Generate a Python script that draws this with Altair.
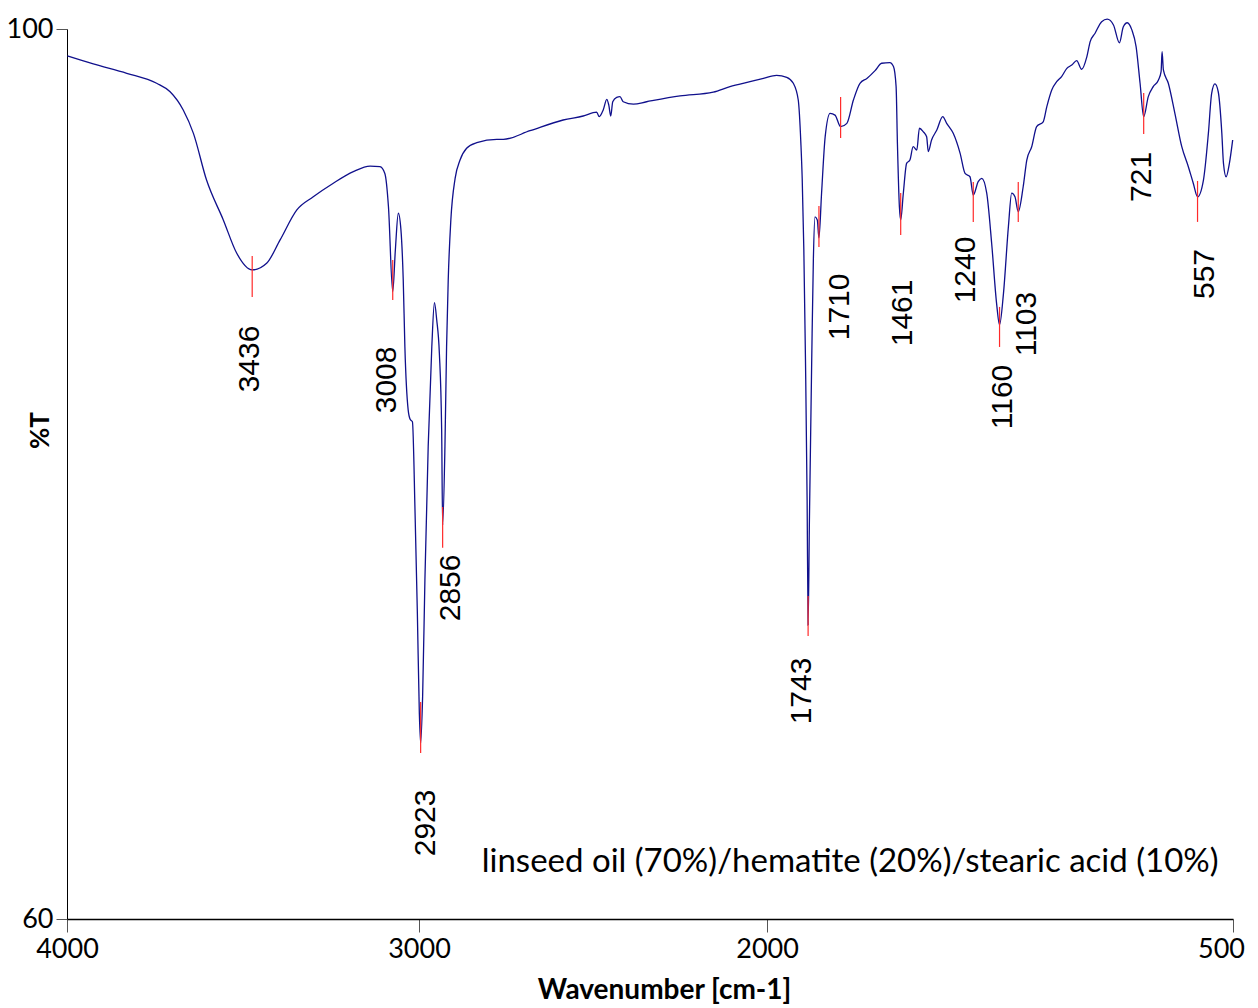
import altair as alt
import pandas as pd

# ---- spectrum (wavenumber cm-1, %T) ----
wavenumber = [3999, 3920, 3818, 3727, 3686, 3646, 3615, 3575, 3524, 3483, 3436, 3392, 3351,
              3300, 3250, 3189, 3128, 3077, 3047, 3032, 3021, 3008, 3000, 2991, 2983, 2976,
              2971, 2961, 2955, 2948, 2940, 2933, 2927, 2923, 2917, 2910, 2900, 2889, 2881,
              2874, 2866, 2859, 2856, 2849, 2844, 2839, 2831, 2818, 2803, 2783, 2752, 2691,
              2671, 2590, 2489, 2428, 2387, 2379, 2367, 2356, 2350, 2344, 2338, 2326, 2316,
              2306, 2275, 2235, 2133, 2032, 1981, 1920, 1879, 1839, 1808, 1788, 1773, 1765,
              1761, 1756, 1751, 1746, 1743, 1739, 1732, 1727, 1722, 1715, 1710, 1702, 1691,
              1676, 1661, 1644, 1625, 1605, 1585, 1564, 1539, 1519, 1494, 1483, 1475, 1471,
              1465, 1461, 1453, 1443, 1433, 1423, 1412, 1404, 1392, 1382, 1377, 1367, 1351,
              1333, 1321, 1301, 1280, 1265, 1250, 1240, 1225, 1214, 1199, 1184, 1169, 1160,
              1148, 1133, 1123, 1113, 1103, 1088, 1077, 1062, 1047, 1027, 1016, 1001, 986,
              971, 955, 940, 925, 910, 894, 884, 869, 849, 832, 813, 795, 783, 771, 757, 744,
              732, 721, 707, 692, 676, 668, 665, 661, 646, 626, 605, 585, 570, 557, 539, 524,
              514, 504, 494, 483, 478, 470, 460, 450]
transmittance = [98.79, 98.43, 98.01, 97.56, 97.18, 96.36, 95.31, 93.21, 91.42, 89.92, 89.17,
                 89.47, 90.52, 91.87, 92.46, 93.07, 93.59, 93.84, 93.81, 93.51, 92.01, 88.19,
                 90.07, 91.72, 90.97, 88.72, 85.72, 82.88, 82.46, 82.35, 78.25, 73.75, 69.26,
                 67.90, 69.99, 75.24, 81.23, 85.72, 87.70, 86.92, 85.43, 81.98, 77.71, 81.23,
                 85.72, 88.72, 91.42, 93.29, 94.11, 94.64, 94.89, 95.04, 95.04, 95.43, 95.91,
                 96.09, 96.26, 96.06, 96.36, 96.84, 96.58, 96.09, 96.73, 96.93, 96.96, 96.73,
                 96.62, 96.73, 96.99, 97.16, 97.41, 97.63, 97.78, 97.92, 97.83, 97.56, 96.81,
                 94.86, 93.29, 90.07, 85.12, 78.83, 73.21, 77.93, 85.12, 89.62, 91.56, 91.42,
                 90.61, 92.62, 95.16, 96.21, 96.13, 95.61, 95.76, 96.81, 97.56, 97.78, 98.13,
                 98.46, 98.49, 98.31, 97.41, 94.86, 92.01, 91.42, 92.62, 93.96, 94.11, 94.71,
                 94.56, 95.54, 95.38, 95.16, 94.49, 95.01, 95.46, 96.06, 95.76, 95.31, 94.41,
                 93.51, 93.36, 92.54, 93.14, 93.29, 92.62, 90.37, 87.67, 86.70, 88.12, 91.12,
                 92.62, 92.46, 91.79, 92.91, 94.11, 94.71, 95.61, 95.83, 96.51, 97.26, 97.63,
                 97.86, 98.23, 98.38, 98.58, 98.19, 98.76, 99.43, 99.81, 100.33, 100.44, 100.18,
                 99.38, 100.10, 100.28, 99.96, 99.20, 97.56, 96.06, 96.96, 97.41, 97.71, 98.08,
                 98.98, 98.16, 97.56, 96.21, 94.71, 93.81, 93.07, 92.46, 93.21, 95.31, 97.11,
                 97.53, 97.18, 95.31, 93.96, 93.36, 93.96, 95.01]

# ---- peak markers (red ticks) ----
peak_wn = [3436, 3008, 2923, 2856, 1743, 1710, 1644, 1461, 1240, 1160, 1103, 721, 557]
peak_top = [89.80, 89.62, 69.75, 78.52, 74.52, 92.05, 96.94, 92.63, 93.12, 87.51, 93.12, 97.12, 93.17]
peak_bottom = [87.96, 87.82, 67.46, 76.68, 72.72, 90.20, 95.10, 90.74, 91.33, 85.71, 91.33, 95.28, 91.33]

# ---- peak labels ----
label_text = ["3436", "3008", "2923", "2856", "1743", "1710", "1461", "1240", "1160", "1103", "721", "557"]
label_wn = [3443, 3025, 2907, 2830, 1762, 1646, 1454, 1262, 1149, 1076, 726, 534]
label_t = [85.17, 84.23, 64.32, 74.88, 70.25, 87.51, 87.24, 89.17, 83.46, 86.74, 93.35, 88.99]

# ---- annotation ----
note_text = ["linseed oil (70%)/hematite (20%)/stearic acid (10%)"]
note_wn = [1615]
note_t = [62.56]

# ---- axes ----
x_tick_values = [4000, 2928, 1868, 449]
x_tick_labels = ["4000", "3000", "2000", "500"]
y_tick_values = [60, 100]

spec = pd.DataFrame({"wn": wavenumber, "t": transmittance})
peaks = pd.DataFrame({"wn": peak_wn, "top": peak_top, "bottom": peak_bottom})
labels = pd.DataFrame({"wn": label_wn, "t": label_t, "txt": label_text})
note = pd.DataFrame({"wn": note_wn, "t": note_t, "txt": note_text})

expr = "''"
for v, lab in reversed(list(zip(x_tick_values, x_tick_labels))):
    expr = f"(abs(datum.value - {v}) < 1 ? '{lab}' : {expr})"

xscale = alt.Scale(domain=[449, 4000], reverse=True, nice=False, zero=False)
yscale = alt.Scale(domain=[60, 100], nice=False, zero=False)

xaxis = alt.Axis(values=x_tick_values, labelExpr=expr, title="Wavenumber [cm-1]",
                 grid=False, tickSize=13, labelPadding=4, labelFlush=False, labelOverlap=False,
                 labelOffset={"condition": {"test": "datum.value < 500", "value": -12}, "value": 0},
                 labelFont="Lato", labelFontSize=27, labelColor="black",
                 titleFont="Lato", titleFontSize=28, titleFontWeight="bold", titleColor="black",
                 titleX=597, titleY=71, titleBaseline="middle", titleAlign="center",
                 domainColor="black", tickColor="#555555", domainWidth=1.5)
yaxis = alt.Axis(values=y_tick_values, title="%T", grid=False, tickSize=11, labelPadding=3,
                 labelFont="Lato", labelFontSize=27, labelColor="black",
                 titleFont="Lato", titleFontSize=26, titleFontWeight="bold", titleColor="black",
                 titleX=-27, titleY=401, titleAngle=270, titleBaseline="middle", titleAlign="center",
                 domainColor="black", tickColor="#555555")

line = alt.Chart(spec).mark_line(color="#10108c", strokeWidth=1.3, interpolate="monotone").encode(
    x=alt.X("wn:Q", scale=xscale, axis=xaxis),
    y=alt.Y("t:Q", scale=yscale, axis=yaxis),
    order="wn:Q",
)

rules = alt.Chart(peaks).mark_rule(color="#ff2a2a", strokeWidth=1.2).encode(
    x=alt.X("wn:Q", scale=xscale),
    y=alt.Y("top:Q", scale=yscale),
    y2="bottom:Q",
)

peak_labels = alt.Chart(labels).mark_text(
    angle=270, font="Liberation Sans", fontSize=30, color="black",
    align="center", baseline="middle",
).encode(x=alt.X("wn:Q", scale=xscale), y=alt.Y("t:Q", scale=yscale), text="txt:N")

note_label = alt.Chart(note).mark_text(
    font="Lato", fontSize=33, color="black", align="center", baseline="middle",
).encode(x=alt.X("wn:Q", scale=xscale), y=alt.Y("t:Q", scale=yscale), text="txt:N")

chart = alt.layer(line, rules, peak_labels, note_label).properties(
    width=1166, height=890,
    autosize=alt.AutoSizeParams(type="none"),
    padding={"left": 59, "top": 21, "right": 17, "bottom": 88},
).configure_view(stroke=None)

chart.save("out.html", embed_options={"renderer": "svg", "actions": False})
